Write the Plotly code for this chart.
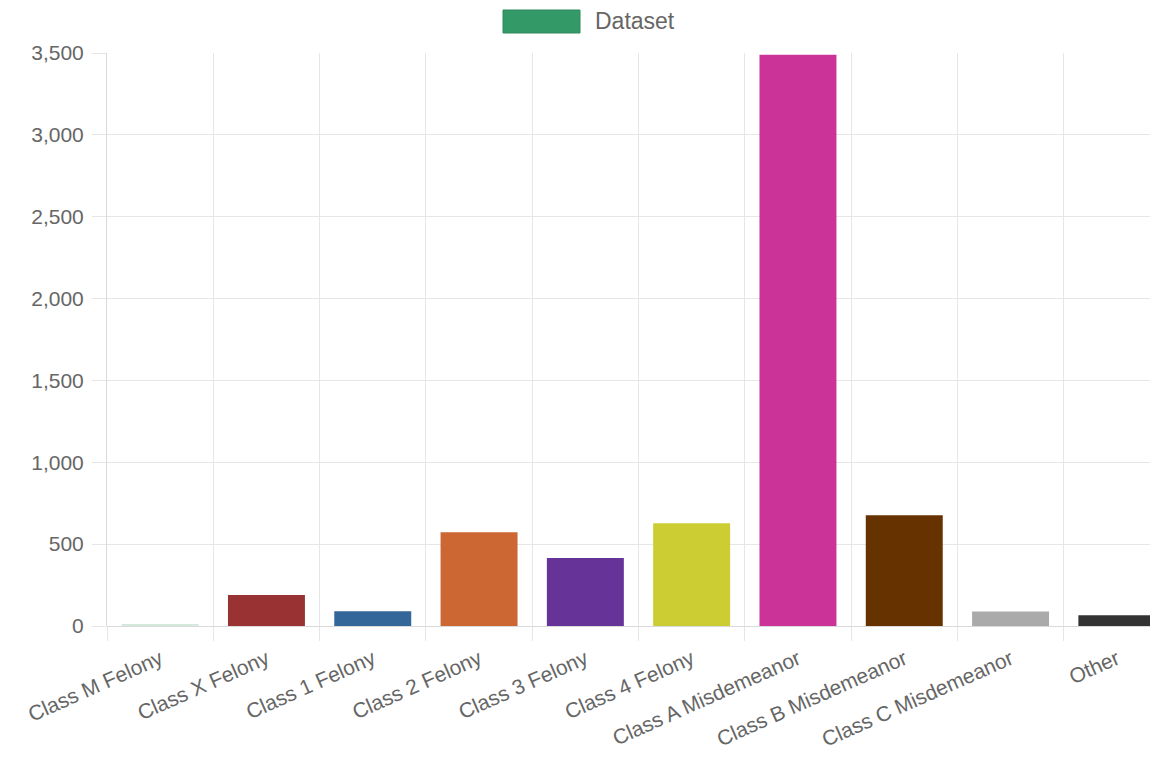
import plotly.graph_objects as go

categories = ["Class M Felony", "Class X Felony", "Class 1 Felony", "Class 2 Felony",
              "Class 3 Felony", "Class 4 Felony", "Class A Misdemeanor",
              "Class B Misdemeanor", "Class C Misdemeanor", "Other"]
values = [10, 190, 90, 573, 415, 628, 3490, 676, 88, 65]
bar_colors = ["#d5eadd", "#993333", "#336699", "#cc6633", "#663399",
              "#cccc33", "#cc3399", "#663300", "#aaaaaa", "#333333"]
legend_label = "Dataset"
legend_color = "#339966"
y_ticks = [0, 500, 1000, 1500, 2000, 2500, 3000, 3500]

FONT = "Liberation Sans, Arial, Helvetica, sans-serif"
GRID = "#e6e6e6"
TXT = "#666666"

# page is offset by the 8px body margin
OFF = 8
PL, PR, PT, PB = 107, 1158, 53, 626  # plot area in page pixels
W, H = 1158 - OFF, 757 - OFF

fig = go.Figure()
fig.add_trace(go.Bar(
    x=categories, y=values,
    marker=dict(color=bar_colors, line=dict(width=0)),
    name=legend_label, showlegend=False,
))

fig.update_layout(
    width=W, height=H,
    margin=dict(l=PL - OFF, r=W - (PR - OFF), t=PT - OFF, b=H - (PB - OFF)),
    paper_bgcolor="white", plot_bgcolor="white",
    bargap=0.276,
    font=dict(family=FONT, size=21, color=TXT),
    xaxis=dict(
        range=[-0.5, 9.387],
        automargin=False,
        tickson="boundaries",
        showgrid=True, gridcolor=GRID, gridwidth=1,
        ticks="outside", ticklen=14, tickcolor=GRID,
        tickangle=-24,
        ticklabelstandoff=16,
        tickfont=dict(family=FONT, size=21, color=TXT),
        showline=False,
        zeroline=False,
    ),
    yaxis=dict(
        range=[0, 3500],
        automargin=False,
        tickvals=y_ticks,
        tickformat=",",
        showgrid=True, gridcolor=GRID, gridwidth=1,
        ticks="outside", ticklen=14, tickcolor=GRID,
        ticklabelstandoff=4,
        tickfont=dict(family=FONT, size=21, color=TXT),
        showline=True, linecolor="#d9d9d9", linewidth=1,
        zeroline=True, zerolinecolor="#d9d9d9", zerolinewidth=1,
    ),
)

def px_x(x):
    return (x - PL) / (PR - PL)

def px_y(y):
    return (PB - y) / (PB - PT)

# Chart.js-style legend box at the top
fig.add_shape(type="rect", xref="paper", yref="paper",
              x0=px_x(503), x1=px_x(580), y0=px_y(33), y1=px_y(10),
              fillcolor=legend_color, line=dict(color="#2f8a5a", width=1))
fig.add_annotation(text=legend_label, xref="paper", yref="paper",
                   x=px_x(593), y=px_y(21.5),
                   xanchor="left", yanchor="middle", showarrow=False,
                   font=dict(family=FONT, size=23, color=TXT))

fig.write_html("out.html")
